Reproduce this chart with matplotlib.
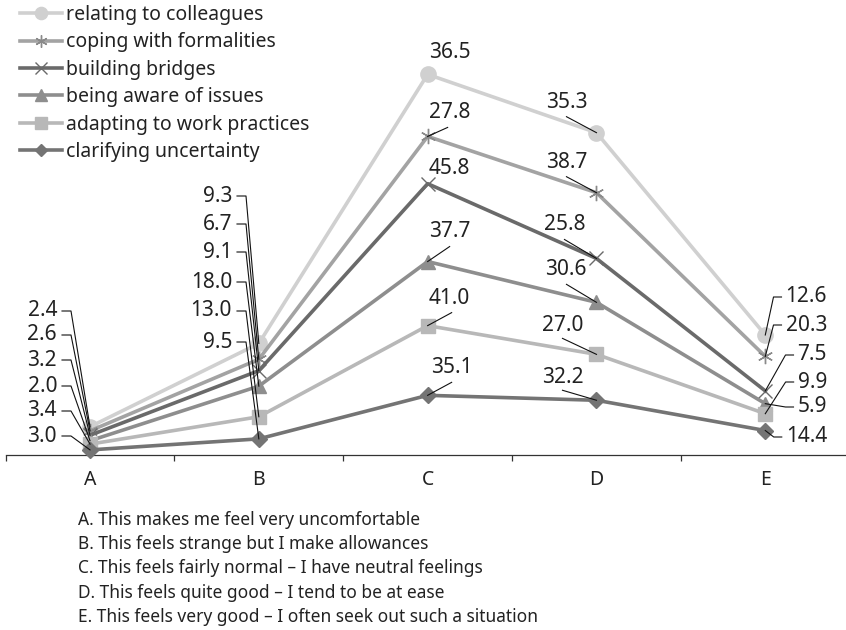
import matplotlib
matplotlib.use("Agg")
import matplotlib.pyplot as plt
from matplotlib.lines import Line2D
import numpy as np

plt.rcParams['font.family'] = ['Noto Sans', 'DejaVu Sans']

W, H, DPI = 846, 630, 100

# ---- data -------------------------------------------------------------
categories = ['A', 'B', 'C', 'D', 'E']
series_names = ['relating to colleagues', 'coping with formalities', 'building bridges',
                'being aware of issues', 'adapting to work practices', 'clarifying uncertainty']
relating = [2.4, 9.3, 36.5, 35.3, 12.6]
coping = [2.6, 6.7, 27.8, 38.7, 20.3]
building = [3.2, 9.1, 45.8, 25.8, 7.5]
aware = [2.0, 18.0, 37.7, 30.6, 5.9]
adapting = [3.4, 13.0, 41.0, 27.0, 9.9]
clarifying = [3.0, 9.5, 35.1, 32.2, 14.4]
descriptions = [
    'A. This makes me feel very uncomfortable',
    'B. This feels strange but I make allowances',
    'C. This feels fairly normal \u2013 I have neutral feelings',
    'D. This feels quite good \u2013 I tend to be at ease',
    'E. This feels very good \u2013 I often seek out such a situation',
]

# ---- styles (same order as series_names) ----------------------------
colors = ['#d0d0d0', '#a3a3a3', '#6a6a6a', '#8e8e8e', '#b8b8b8', '#747474']
markers = ['o', (6, 2, 0), 'x', '^', 's', 'D']
msizes = [11, 11, 10, 10, 10, 8]

LABEL_FS = 15
LEGEND_FS = 14
DESC_FS = 12.5
TICK_FS = 14
TEXT_COLOR = '#222222'

values = [relating, coping, building, aware, adapting, clarifying]
# stacked from the bottom series upward
stack = np.cumsum(np.array(values[::-1]), axis=0)[::-1]

fig = plt.figure(figsize=(W / DPI, H / DPI), dpi=DPI)
ax_left, ax_right = 5.6, 849.7
ax_bottom_px = 455
ax = fig.add_axes([ax_left / W, 1 - ax_bottom_px / H, (ax_right - ax_left) / W, ax_bottom_px / H])
ax.set_xlim(-0.5, 4.5)
ax.set_ylim(0, ax_bottom_px / 1.70)

x = np.arange(len(categories))
handles = []
for i in range(len(values)):
    open_marker = markers[i] in ('x', (6, 2, 0))
    mfc = 'none' if open_marker else colors[i]
    mec = ('#8a8a8a' if i == 1 else '#6a6a6a') if open_marker else colors[i]
    ln, = ax.plot(x, stack[i], color=colors[i], lw=2.6, marker=markers[i], ms=msizes[i],
                  mfc=mfc, mec=mec, mew=1.0, clip_on=False, zorder=3 + i,
                  label=series_names[i])
    handles.append(ln)

for s in ['top', 'right', 'left']:
    ax.spines[s].set_visible(False)
ax.spines['bottom'].set_linewidth(0.9)
ax.spines['bottom'].set_color('#333333')
ax.set_yticks([])
ax.set_xticks(np.arange(-0.5, 5, 1.0))
ax.set_xticklabels([])
ax.tick_params(axis='x', which='major', length=4, width=0.9, color='#333333', direction='out')
ax.set_xticks(x, minor=True)
ax.set_xticklabels(categories, minor=True, fontsize=TICK_FS, color=TEXT_COLOR)
ax.tick_params(axis='x', which='minor', length=0, pad=11)

leg = fig.legend(handles=handles, loc='upper left', bbox_to_anchor=(20 / W, 1 - 5 / H),
                 frameon=False, fontsize=LEGEND_FS, handlelength=2.15, handletextpad=0.2,
                 labelspacing=0.38, borderpad=0, borderaxespad=0, markerscale=0.8)
for t in leg.get_texts():
    t.set_color(TEXT_COLOR)

# ---- data labels ------------------------------------------------------
fig.canvas.draw()
renderer = fig.canvas.get_renderer()


def pt_px(i, j):
    """Pixel position (from the top-left) of series i at category j."""
    dx, dy = ax.transData.transform((x[j], stack[i][j]))
    return dx, H - dy


def fig_line(xs, ys):
    fig.add_artist(Line2D([v / W for v in xs], [1 - v / H for v in ys],
                          transform=fig.transFigure, color='#111111', lw=0.8, zorder=20))


def fig_text(px, py, s, ha):
    return fig.text(px / W, 1 - py / H, s, ha=ha, va='center', fontsize=LABEL_FS,
                    color=TEXT_COLOR, zorder=21)


# left-side stacks of labels for A and B
side_layout = {0: (57, [311, 335, 360, 386, 411, 436]),
               1: (232, [196, 224, 252, 282, 311, 342])}
for j, (right_x, ys) in side_layout.items():
    for i in range(len(values)):
        fig_text(right_x, ys[i], f'{values[i][j]:.1f}', 'right')
        px, py = pt_px(i, j)
        fig_line([right_x + 5, right_x + 14, px], [ys[i], ys[i], py])

# labels above the points for C and D
above_layout = {
    2: ([(22, -22), (22, -24), (22, -15), (22, -30), (22, -27), (24, -28)],
        [None, (20, -9), None, (22, -15), (24, -13), (24, -13)]),
    3: ([(-30, -30), (-30, -30), (-32, -34), (-31, -33), (-34, -29), (-34, -23)],
        [(-30, -16), (-30, -16), (-32, -19), (-30, -18), (-34, -16), (-34, -10)]),
}
for j, (offs, leads) in above_layout.items():
    for i in range(len(values)):
        px, py = pt_px(i, j)
        fig_text(px + offs[i][0], py + offs[i][1], f'{values[i][j]:.1f}', 'center')
        if leads[i] is not None:
            fig_line([px + leads[i][0], px], [py + leads[i][1], py])

# right-side labels for E
e_right = 827
e_ys = [297, 325, 355, 407, 382, 437]
for i in range(len(values)):
    t = fig_text(e_right, e_ys[i], f'{values[i][4]:.1f}', 'right')
    bb = t.get_window_extent(renderer)
    px, py = pt_px(i, 4)
    fig_line([bb.x0 - 4, bb.x0 - 12, px], [e_ys[i], e_ys[i], py])

# category descriptions under the chart
for k, line in enumerate(descriptions):
    fig.text(78 / W, 1 - (520 + 24.2 * k) / H, line, ha='left', va='center',
             fontsize=DESC_FS, color=TEXT_COLOR)

fig.savefig('out.png', dpi=DPI)
